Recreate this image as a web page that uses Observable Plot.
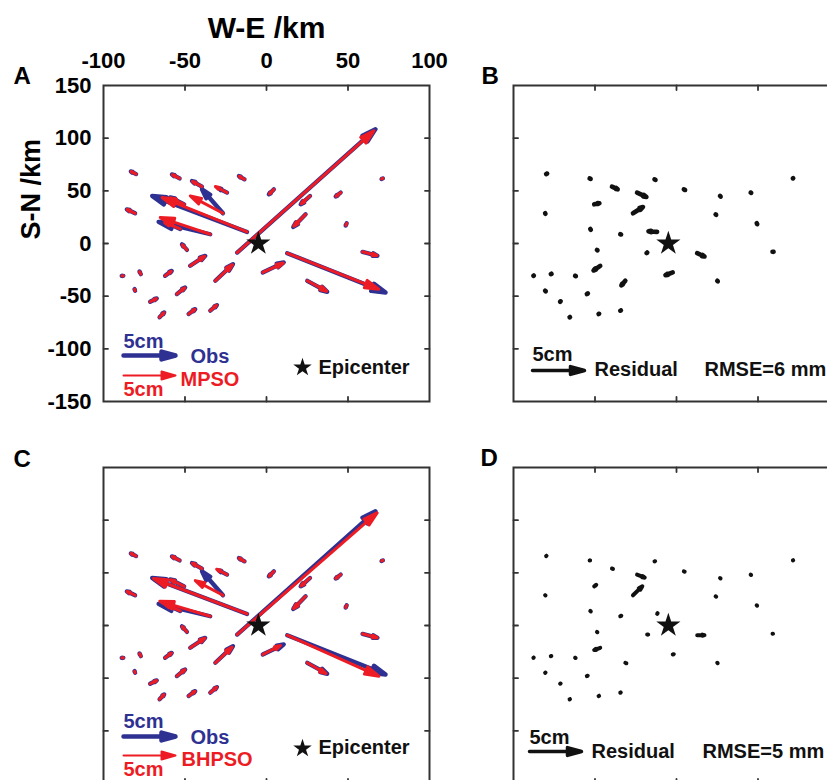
<!DOCTYPE html>
<html><head><meta charset="utf-8">
<script src="https://cdn.jsdelivr.net/npm/d3@7"></script>
<script src="https://cdn.jsdelivr.net/npm/@observablehq/plot@0.6"></script>
<style>
html,body{margin:0;padding:0;background:#fff;overflow:hidden;}
#fig{position:relative;width:827px;height:780px;overflow:hidden;background:#fff;}
#fig svg{position:absolute;max-width:none;}
</style></head><body><div id="fig"></div>
<script>
// ---- data (stations in km relative to origin; displacements in cm, east / north) ----
const stationX = [-80.0,-53.3,-39.6,-13.5,4.5,26.7,45.5,71.4,-80.6,-50.5,-24.2,-26.7,24.0,49.2,-52.9,-34.5,-11.9,-48.8,-18.0,12.7,58.9,-87.8,-77.1,-62.2,-46.8,-2.3,25.0,-31.4,-80.6,-55.0,-71.4,-65.6,-47.8,-34.5];
const stationY = [65.9,61.8,54.0,60.9,51.4,45.1,48.3,61.8,28.7,37.2,48.3,28.7,27.7,19.2,13.8,8.8,11.0,-6.1,-8.6,-9.2,-7.9,-30.7,-29.1,-30.7,-21.2,-27.5,-35.4,-35.4,-44.9,-48.0,-55.3,-70.1,-67.0,-63.8];

const obsE = [-0.51,-0.74,-0.96,-0.54,-0.48,-0.90,-0.48,-0.13,-0.80,-1.35,-0.82,-2.02,-1.19,-0.10,-1.44,-4.97,-9.13,-0.48,13.30,9.46,1.44,-0.16,-0.13,0.64,1.44,2.02,1.92,1.70,-0.06,0.80,0.64,0.45,0.64,0.64];
const obsN = [0.26,0.38,0.54,0.32,-0.48,-0.80,-0.38,-0.06,0.38,0.67,0.42,2.31,-1.22,-0.22,0.64,1.19,3.46,0.54,11.86,-3.78,-0.38,0.00,0.26,0.48,0.96,0.96,-1.06,1.60,0.16,0.64,0.32,0.48,0.48,0.54];

const mpsoE = [-0.48,-0.70,-0.92,-0.52,-0.42,-0.85,-0.45,-0.12,-0.77,-1.30,-1.12,-3.14,-1.14,-0.08,-1.50,-4.81,-8.17,-0.45,13.14,8.81,1.40,-0.14,-0.12,0.60,1.40,1.98,1.86,1.65,-0.05,0.76,0.60,0.42,0.60,0.60];
const mpsoN = [0.24,0.36,0.50,0.30,-0.45,-0.75,-0.36,-0.05,0.36,0.62,0.58,1.67,-1.15,-0.20,0.60,1.60,3.30,0.50,11.70,-3.46,-0.36,0.00,0.24,0.45,0.92,0.90,-1.00,1.55,0.15,0.60,0.30,0.45,0.46,0.52];

const bhpsoE = [-0.49,-0.71,-0.93,-0.52,-0.44,-0.87,-0.46,-0.12,-0.78,-1.32,-1.00,-2.66,-1.16,-0.09,-1.46,-4.85,-9.00,-0.46,13.46,8.81,1.41,-0.15,-0.12,0.62,1.42,1.72,1.80,1.62,-0.05,0.78,0.62,0.43,0.62,0.62];
const bhpsoN = [0.25,0.37,0.52,0.31,-0.46,-0.77,-0.37,-0.05,0.37,0.64,0.52,1.41,-1.18,-0.21,0.62,1.45,3.40,0.52,11.70,-3.94,-0.37,0.00,0.25,0.46,0.94,0.87,-1.04,1.50,0.15,0.62,0.31,0.46,0.47,0.53];

const resMpsoE = [0.10,0.10,0.55,0.10,0.12,0.06,0.05,0.03,0.03,0.50,0.90,0.96,0.05,0.05,0.05,0.08,-0.83,0.05,-0.05,0.70,0.10,0.04,0.07,0.07,-0.64,-0.70,0.05,-0.38,0.06,0.10,0.05,0.04,0.05,0.06];
const resMpsoN = [0.05,-0.05,-0.26,-0.05,-0.06,-0.06,-0.03,0.02,-0.05,0.10,-0.42,0.60,-0.05,-0.08,-0.08,-0.03,0.06,-0.04,-0.05,-0.32,0.00,0.02,0.03,-0.03,-0.45,-0.26,-0.05,-0.45,-0.05,0.06,0.05,0.02,0.03,0.03];

const resBhpsoE = [0.04,0.05,0.10,0.06,0.08,0.05,0.04,0.03,0.04,0.20,0.74,0.90,0.06,0.04,0.05,0.10,0.05,0.04,0.10,0.70,0.05,0.03,0.05,0.05,-0.58,0.10,0.04,0.10,0.04,0.08,0.05,0.04,0.05,0.05];
const resBhpsoN = [0.03,0.00,-0.03,0.02,-0.03,-0.04,-0.03,0.01,-0.02,0.15,-0.29,0.87,-0.04,-0.04,-0.04,0.05,0.08,-0.03,0.00,0.00,0.00,0.02,0.02,-0.02,-0.22,0.03,-0.04,-0.05,0.03,0.04,0.03,0.02,0.02,0.02];

const epicenter = [[-5, 0]];
const xTicks = [-50, 0, 50];
const yTicks = [-100, -50, 0, 50, 100];
const xTickLabels = [-100, -50, 0, 50, 100];
const yTickLabels = [150, 100, 50, 0, -50, -100, -150];
const refLength = [5]; // cm

// ---- style ----
const BLUE = "#2e3192", RED = "#ed1c24", INK = "#111", FRAME = "#333";
const FONT = "'Liberation Sans', Arial, Helvetica, sans-serif";

const arrowShape = {draw(ctx, l) {
  const h = Math.min(14, l * 0.3), w = h * 0.28;
  ctx.moveTo(0, 0); ctx.lineTo(0, -(l - h * 0.8));
  ctx.moveTo(0, -l); ctx.lineTo(-w, -l + h); ctx.lineTo(w, -l + h); ctx.closePath();
}};
const lineShape = {draw(ctx, l) { ctx.moveTo(0, 0); ctx.lineTo(0, -l); }};

function vectors(E, N, opts) {
  const rows = stationX.map((x, i) => ({x, y: stationY[i], e: E[i], n: N[i]}));
  return Plot.vector(rows, {
    x: "x", y: "y",
    length: d => Math.hypot(d.e, d.n),
    rotate: d => Math.atan2(d.e, d.n) * 180 / Math.PI,
    anchor: "start", shape: arrowShape, ...opts
  });
}
function frameTicks() {
  const tk = {length: 4.5, anchor: "start", shape: lineShape, stroke: FRAME, strokeWidth: 1.8};
  return [
    Plot.vector(xTicks, {x: d => d, frameAnchor: "top", rotate: 180, ...tk}),
    Plot.vector(xTicks, {x: d => d, frameAnchor: "bottom", rotate: 0, ...tk}),
    Plot.vector(yTicks, {y: d => d, frameAnchor: "left", rotate: 90, ...tk}),
    Plot.vector(yTicks, {y: d => d, frameAnchor: "right", rotate: -90, ...tk})
  ];
}
const T = (s, dx, dy, o = {}) => Plot.text([s], {text: d => d, frameAnchor: "bottom-left", dx, dy,
  textAnchor: "start", lineAnchor: "bottom", fontSize: 20, fontWeight: "bold", fontFamily: FONT, fill: INK, ...o});
const refArrow = (dx, dy, color, sw) => Plot.vector(refLength, {length: d => d, frameAnchor: "bottom-left",
  dx, dy, rotate: 90, anchor: "start", shape: arrowShape, stroke: color, fill: color, strokeWidth: sw});
const star = () => Plot.dot(epicenter, {x: d => d[0], y: d => d[1], symbol: "star", r: 7.6, fill: INK});
const legendStar = (dx, dy) => Plot.dot([0], {frameAnchor: "bottom-left", dx, dy, symbol: "star", r: 5.8, fill: INK});
const letter = (s, dx, dy) => Plot.text([s], {text: d => d, frameAnchor: "top-left", dx, dy, textAnchor: "start",
  lineAnchor: "bottom", fontSize: 24, fontWeight: "bold", fontFamily: FONT, fill: "#000"});

const fig = document.getElementById("fig");
function panel({left, top, width, height, ml, mt, mr, mb, marks}) {
  const svg = Plot.plot({
    width, height, marginLeft: ml, marginTop: mt, marginRight: mr, marginBottom: mb,
    x: {domain: [-100, 100], axis: null},
    y: {domain: [-150, 150], axis: null},
    length: {domain: [0, 5], range: [0, 52]},
    style: {fontFamily: FONT, background: "transparent", color: "#000", overflow: "visible"},
    marks
  });
  svg.style.left = left + "px"; svg.style.top = top + "px";
  fig.appendChild(svg);
}

// A
panel({left: 0, top: 0, width: 460, height: 410, ml: 103, mt: 85, mr: 31, mb: 9, marks: [
  Plot.frame({stroke: FRAME, strokeWidth: 2}),
  ...frameTicks(),
  Plot.axisX(xTickLabels, {anchor: "top", tickSize: 0, tickPadding: 18, tickFormat: d => String(d), fontSize: 22, fontWeight: "bold", fill: "#000", label: null}),
  Plot.axisY(yTickLabels, {anchor: "left", tickSize: 0, tickPadding: 12, tickFormat: d => String(d), fontSize: 22, fontWeight: "bold", fill: "#000", label: null}),
  Plot.text(["W-E /km"], {text: d => d, frameAnchor: "top", dy: -48, lineAnchor: "bottom", fontSize: 30, fontWeight: "bold", fontFamily: FONT, fill: "#000"}),
  Plot.text(["S-N /km"], {text: d => d, frameAnchor: "left", dx: -72, dy: -4, rotate: -90, lineAnchor: "middle", fontSize: 27, fontWeight: "bold", fontFamily: FONT, fill: "#000"}),
  letter("A", -90, -2),
  vectors(obsE, obsN, {stroke: BLUE, fill: BLUE, strokeWidth: 4.3}),
  vectors(mpsoE, mpsoN, {stroke: RED, fill: RED, strokeWidth: 3}),
  star(),
  T("5cm", 20, -54, {fill: BLUE}),
  refArrow(20, -46, BLUE, 4.5),
  T("Obs", 87, -39, {fill: BLUE}),
  refArrow(20, -26, RED, 2),
  T("MPSO", 77, -16, {fill: RED}),
  T("5cm", 20, -6, {fill: RED}),
  legendStar(199, -34),
  T("Epicenter", 215, -28)
]});

// B
panel({left: 460, top: 0, width: 390, height: 410, ml: 53, mt: 85, mr: 11, mb: 9, marks: [
  Plot.frame({stroke: FRAME, strokeWidth: 2}),
  ...frameTicks(),
  letter("B", -32, -2),
  vectors(resMpsoE, resMpsoN, {stroke: INK, fill: INK, strokeWidth: 4.6}),
  star(),
  T("5cm", 19, -41),
  refArrow(19, -31, INK, 3.5),
  T("Residual", 81, -26),
  T("RMSE=6 mm", 191, -26)
]});

// C
panel({left: 0, top: 430, width: 460, height: 360, ml: 103, mt: 37, mr: 31, mb: 7, marks: [
  Plot.frame({stroke: FRAME, strokeWidth: 2}),
  ...frameTicks(),
  letter("C", -90, -1),
  vectors(obsE, obsN, {stroke: BLUE, fill: BLUE, strokeWidth: 4.3}),
  vectors(bhpsoE, bhpsoN, {stroke: RED, fill: RED, strokeWidth: 3}),
  star(),
  T("5cm", 20, -56, {fill: BLUE}),
  refArrow(20, -47, BLUE, 4.5),
  T("Obs", 87, -40, {fill: BLUE}),
  refArrow(20, -28, RED, 2),
  T("BHPSO", 78, -18, {fill: RED}),
  T("5cm", 20, -8, {fill: RED}),
  legendStar(199, -35),
  T("Epicenter", 215, -30)
]});

// D
panel({left: 460, top: 430, width: 390, height: 360, ml: 53, mt: 37, mr: 11, mb: 7, marks: [
  Plot.frame({stroke: FRAME, strokeWidth: 2}),
  ...frameTicks(),
  letter("D", -33, -2),
  vectors(resBhpsoE, resBhpsoN, {stroke: INK, fill: INK, strokeWidth: 4}),
  star(),
  T("5cm", 16, -40),
  refArrow(16, -32, INK, 3.5),
  T("Residual", 78, -26),
  T("RMSE=5 mm", 189, -26)
]});
</script></body></html>
